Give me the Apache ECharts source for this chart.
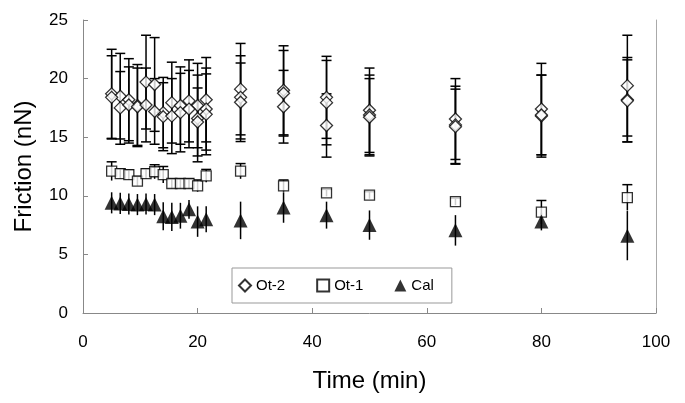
<!DOCTYPE html>
<html>
<head>
<meta charset="utf-8">
<script src="https://cdn.jsdelivr.net/npm/echarts@6/dist/echarts.min.js"></script>
<style>
  html, body { margin: 0; padding: 0; background: #fff; }
  #chart { width: 685px; height: 403px; }
</style>
</head>
<body>
<div id="chart"></div>
<script>
// time points (min)
const times = [5, 6.5, 8, 9.5, 11, 12.5, 14, 15.5, 17, 18.5, 20, 21.5, 27.5, 35, 42.5, 50, 65, 80, 95];

// Ot-2: three runs, each with its own error bars
const ot2RunA = [18.7, 18.5, 18.2, 17.7, 19.7, 19.5, 17.1, 17.95, 17.7, 18.1, 17.7, 18.2, 19.1, 19.0, 18.4, 17.3, 16.55, 17.4, 19.4];
const ot2RunAErr = [3.8, 3.65, 3.5, 3.5, 4.0, 4.0, 3.0, 3.45, 3.3, 3.5, 3.6, 3.6, 3.9, 3.8, 3.5, 3.6, 3.45, 3.9, 4.3];
const ot2RunB = [18.4, 17.5, 17.75, 17.6, 17.75, 17.2, 16.75, 16.8, 17.1, 17.4, 16.6, 17.4, 18.4, 18.75, 17.95, 16.9, 16.05, 16.8, 18.2];
const ot2RunBErr = [3.55, 3.1, 3.25, 3.3, 3.15, 2.8, 2.9, 3.2, 3.35, 3.3, 3.7, 3.5, 3.55, 3.65, 3.6, 3.4, 3.3, 3.5, 3.6];
const ot2RunC = [null, null, null, null, null, null, null, null, null, null, 16.3, 16.95, 17.98, 17.6, 16.0, 16.7, 15.9, 16.9, 18.1];
const ot2RunCErr = [null, null, null, null, null, null, null, null, null, null, 2.9, 3.45, 3.35, 3.1, 2.7, 3.3, 3.2, 3.4, 3.5];

// Ot-1
const ot1 = [12.1, 11.9, 11.8, 11.25, 11.9, 12.05, 11.8, 11.05, 11.05, 11.05, 10.85, 11.7, 12.1, 10.85, 10.25, 10.05, 9.5, 8.6, 9.85];
const ot1Err = [0.8, 0.4, 0.4, 0.4, 0.4, 0.6, 0.7, 0.4, 0.4, 0.4, 0.5, 0.55, 0.65, 0.5, 0.3, 0.3, 0.3, 1.0, 1.1];

// Cal
const cal = [9.4, 9.35, 9.3, 9.25, 9.3, 9.25, 8.25, 8.2, 8.3, 8.85, 7.8, 8.0, 7.9, 9.0, 8.35, 7.5, 7.05, 7.8, 6.6];
const calErr = [0.9, 0.9, 0.9, 0.9, 0.9, 0.9, 1.2, 1.2, 1.1, 0.8, 1.3, 1.1, 1.6, 1.3, 1.15, 1.25, 1.3, 0.75, 2.1];

const seriesNames = ['Ot-2', 'Ot-1', 'Cal'];
const xTicks = [0, 20, 40, 60, 80, 100];
const yTicks = [0, 5, 10, 15, 20, 25];

function points(vals, errs) {
  const out = [];
  for (let i = 0; i < times.length; i++) {
    if (vals[i] == null) continue;
    out.push([times[i], vals[i], errs[i]]);
  }
  return out;
}

// error bar drawer; caps: 'both' | 'top' | 'none'
function errorBars(data, caps) {
  return {
    type: 'custom',
    silent: true,
    z: 1,
    data: data,
    encode: { x: 0, y: 1 },
    renderItem: function (params, api) {
      const x = api.value(0), y = api.value(1), e = api.value(2);
      const top = api.coord([x, y + e]);
      const bot = api.coord([x, y - e]);
      const style = { stroke: '#000', lineWidth: 1.5 };
      const children = [{
        type: 'line',
        shape: { x1: top[0], y1: top[1], x2: bot[0], y2: bot[1] },
        style: style
      }];
      const hw = 5;
      if (caps === 'both' || caps === 'top') {
        children.push({ type: 'line', shape: { x1: top[0] - hw, y1: top[1], x2: top[0] + hw, y2: top[1] }, style: style });
      }
      if (caps === 'both') {
        children.push({ type: 'line', shape: { x1: bot[0] - hw, y1: bot[1], x2: bot[0] + hw, y2: bot[1] }, style: style });
      }
      return { type: 'group', children: children };
    }
  };
}

const ot2All = points(ot2RunA, ot2RunAErr)
  .concat(points(ot2RunB, ot2RunBErr))
  .concat(points(ot2RunC, ot2RunCErr));
const ot1Pts = points(ot1, ot1Err);
const calPts = points(cal, calErr);

const openStyle = { color: '#fff', borderColor: '#000', borderWidth: 1.3 };

let option = {
  backgroundColor: '#fff',
  animation: false,
  textStyle: { fontFamily: 'Liberation Sans, Arial, sans-serif', color: '#000' },
  grid: { left: 83, right: 29, top: 20, bottom: 90 },
  xAxis: {
    type: 'value',
    min: 0,
    max: 100,
    interval: 20,
    name: 'Time (min)',
    nameLocation: 'middle',
    nameGap: 56,
    nameTextStyle: { fontSize: 24, color: '#000' },
    axisLine: { lineStyle: { color: '#888' } },
    axisTick: { inside: true, length: 5, lineStyle: { color: '#888' } },
    axisLabel: { fontSize: 17, color: '#000', margin: 21, formatter: v => xTicks.includes(v) ? String(v) : '' },
    splitLine: { show: false }
  },
  yAxis: [{
    type: 'value',
    min: 0,
    max: 25,
    interval: 5,
    name: 'Friction (nN)',
    nameLocation: 'middle',
    nameGap: 47,
    nameTextStyle: { fontSize: 24, color: '#000' },
    axisLine: { show: true, lineStyle: { color: '#888' } },
    axisTick: { show: true, inside: true, length: 5, lineStyle: { color: '#888' } },
    axisLabel: { fontSize: 17, color: '#000', margin: 15, formatter: v => yTicks.includes(v) ? String(v) : '' },
    splitLine: { show: false }
  }, {
    type: 'value',
    min: 0,
    max: 25,
    interval: 5,
    position: 'right',
    axisLine: { show: true, lineStyle: { color: '#aaa' } },
    axisTick: { show: false },
    axisLabel: { show: false },
    splitLine: { show: false }
  }],
  legend: {
    data: seriesNames,
    left: 232,
    top: 268,
    orient: 'horizontal',
    backgroundColor: '#fff',
    borderColor: '#999',
    borderWidth: 1,
    borderRadius: 0,
    padding: [10, 18, 10, 6],
    itemGap: 31,
    itemWidth: 12,
    itemHeight: 12,
    textStyle: { fontSize: 15, color: '#000' }
  },
  series: [
    errorBars(ot2All, 'both'),
    errorBars(ot1Pts, 'top'),
    errorBars(calPts, 'none'),
    {
      name: 'Ot-2',
      type: 'scatter',
      z: 3,
      symbol: 'diamond',
      symbolSize: 12,
      itemStyle: openStyle,
      data: ot2All.map(p => [p[0], p[1]])
    },
    {
      name: 'Ot-1',
      type: 'scatter',
      z: 3,
      symbol: 'rect',
      symbolSize: 10,
      itemStyle: openStyle,
      data: ot1Pts.map(p => [p[0], p[1]])
    },
    {
      name: 'Cal',
      type: 'scatter',
      z: 3,
      symbol: 'triangle',
      symbolSize: 14,
      itemStyle: { color: '#000' },
      data: calPts.map(p => [p[0], p[1]])
    }
  ]
};

const myChart = echarts.init(document.getElementById('chart'));
myChart.setOption(option);
</script>
</body>
</html>
